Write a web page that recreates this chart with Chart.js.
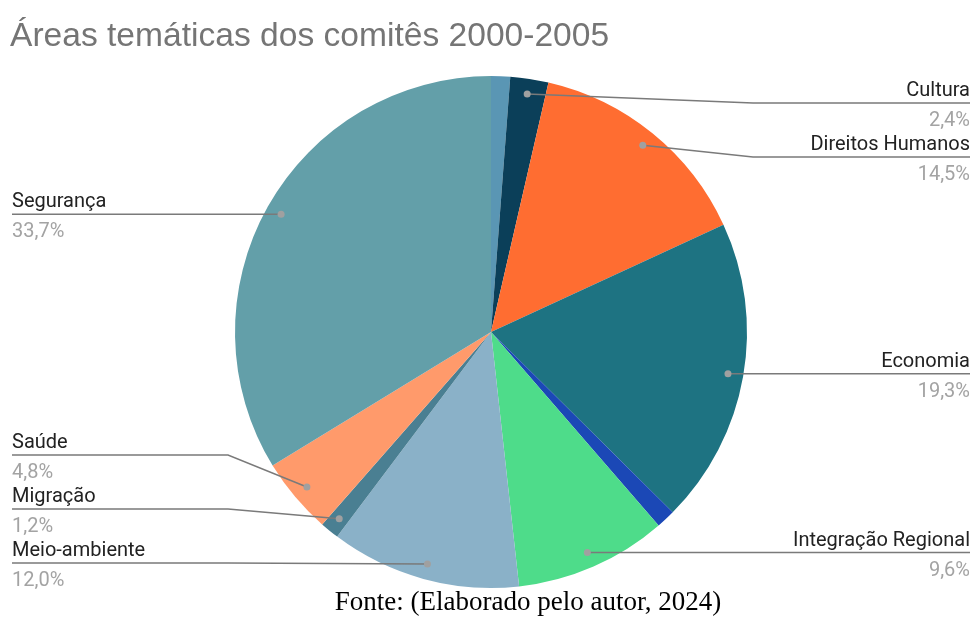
<!DOCTYPE html>
<html>
<head>
<meta charset="utf-8">
<script src="https://cdn.jsdelivr.net/npm/chart.js@4/dist/chart.umd.min.js"></script>
<style>
    html, body { margin: 0; padding: 0; background: #fff; }
    #wrap { position: relative; width: 974px; height: 617px; }
</style>
</head>
<body>
<div id="wrap"><canvas id="pie" width="974" height="617"></canvas></div>
<script>
// Slices in clockwise order starting at 12 o'clock (empty label = unlabeled slice)
const categories = ['', 'Cultura', 'Direitos Humanos', 'Economia', '', 'Integração Regional', 'Meio-ambiente', 'Migração', 'Saúde', 'Segurança'];
const shares     = [1.2, 2.4, 14.5, 19.3, 1.2, 9.6, 12.0, 1.2, 4.8, 33.7];
const colors     = ['#5a96b4', '#0b3f59', '#ff6d31', '#1e7382', '#1b48b6', '#4edc8a', '#8ab1c8', '#4a7f92', '#ff9a6b', '#639fa9'];

const title  = 'Áreas temáticas dos comitês 2000-2005';
const source = 'Fonte: (Elaborado pelo autor, 2024)';

const fmtPct = v => v.toFixed(1).replace('.', ',') + '%';

// Draws the title, the footer and the leader-line labels
const calloutPlugin = {
    id: 'callouts',
    afterDraw(chart) {
        const ctx  = chart.ctx;
        const arcs = chart.getDatasetMeta(0).data;
        const W    = chart.width;

        ctx.save();
        ctx.textBaseline = 'alphabetic';
        ctx.font = '33.6px "Liberation Sans"';
        ctx.fillStyle = '#757575';
        ctx.textAlign = 'left';
        ctx.fillText(title, 10, 46);

        ctx.font = '27px "Liberation Serif"';
        ctx.fillStyle = '#000';
        ctx.textAlign = 'center';
        ctx.fillText(source, 528, 610);

        // collect anchor dots
        const items = [];
        arcs.forEach((arc, i) => {
            if (!categories[i]) return;
            const p   = arc.getProps(['x', 'y', 'startAngle', 'endAngle', 'outerRadius'], true);
            const mid = (p.startAngle + p.endAngle) / 2;
            const r   = p.outerRadius * 0.94;
            const dx  = p.x + Math.cos(mid) * r;
            const dy  = p.y + Math.sin(mid) * r;
            items.push({ i, dx, dy, right: dx > p.x, ly: dy });
        });

        const minY = 103, maxY = 563, gap = 54;
        [true, false].forEach(side => {
            const list = items.filter(it => it.right === side).sort((a, b) => a.dy - b.dy);
            let prev = -Infinity;
            list.forEach(it => { it.ly = Math.max(it.dy, prev + gap, minY); prev = it.ly; });
            let next = Infinity;
            for (let k = list.length - 1; k >= 0; k--) {
                list[k].ly = Math.min(list[k].ly, next - gap, maxY);
                next = list[k].ly;
            }
        });

        items.forEach(it => {
            const bendX = it.right ? 753 : 228;
            const edgeX = it.right ? W - 4 : 12;

            ctx.strokeStyle = '#7a7a7a';
            ctx.lineWidth = 1.5;
            ctx.beginPath();
            ctx.moveTo(it.dx, it.dy);
            if (it.right ? it.dx < bendX : it.dx > bendX) ctx.lineTo(bendX, it.ly);
            ctx.lineTo(edgeX, it.ly);
            ctx.stroke();

            ctx.fillStyle = '#a0a0a0';
            ctx.beginPath();
            ctx.arc(it.dx, it.dy, 3.5, 0, Math.PI * 2);
            ctx.fill();

            ctx.textAlign = it.right ? 'right' : 'left';
            ctx.font = '20px Roboto';
            ctx.fillStyle = '#222';
            ctx.fillText(categories[it.i], edgeX, it.ly - 7);
            ctx.fillStyle = '#a3a3a3';
            ctx.fillText(fmtPct(shares[it.i]), edgeX, it.ly + 23);
        });
        ctx.restore();
    }
};

new Chart(document.getElementById('pie'), {
    type: 'pie',
    data: {
        labels: categories,
        datasets: [{ data: shares, backgroundColor: colors, borderWidth: 0 }]
    },
    options: {
        responsive: false,
        animation: false,
        radius: 256,
        layout: { padding: { left: 8, right: 0, top: 47, bottom: 0 } },
        plugins: { legend: { display: false }, tooltip: { enabled: false } }
    },
    plugins: [calloutPlugin]
});
</script>
</body>
</html>
